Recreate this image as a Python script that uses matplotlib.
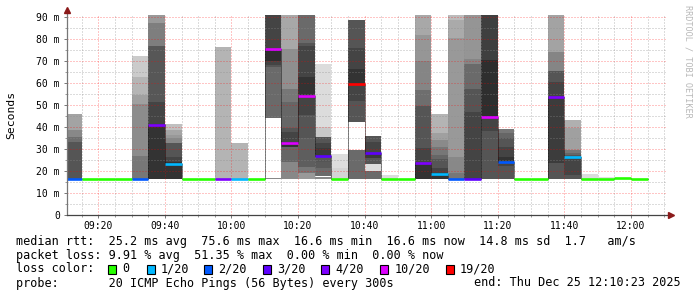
import matplotlib
matplotlib.use("Agg")
import matplotlib.pyplot as plt
from matplotlib.patches import Rectangle
from matplotlib.ticker import MultipleLocator, FixedLocator, FixedFormatter

# 5 minute steps from 09:10 to 12:05 (minutes after 09:00)
step_start = [10 + 5 * i for i in range(35)]

# median rtt per step (ms) and lost pings out of 20
median_ms = [16.6, 16.6, 16.6, 16.6, 16.6, 41.2, 23.2, 16.6, 16.6, 16.6,
             16.6, 16.6, 75.8, 32.7, 54.2, 26.8, 16.6, 59.7, 28.2, 16.6,
             16.6, 23.9, 18.6, 16.6, 16.6, 44.8, 24.3, 16.6, 16.6, 53.8,
             26.6, 16.6, 16.6, 16.9, 16.6]
loss = [2, 0, 0, 0, 2, 4, 1, 0, 0, 4,
        1, 0, 10, 10, 10, 3, 0, 19, 3, 0,
        0, 4, 1, 2, 3, 10, 2, 0, 0, 4,
        1, 0, 0, 0, 0]

smoke_base = 16.6
# smoke layers per step: (top in ms, grey), stacked from smoke_base; None = gap
smoke = [
    [(33.5, '#555555'), (35.7, '#6e6e6e'), (38.8, '#888888'), (46.0, '#a3a3a3')],
    [], [], [],
    [(27.1, '#777777'), (50.4, '#8c8c8c'), (54.7, '#a0a0a0'), (62.7, '#b5b5b5'), (72.4, '#cbcbcb')],
    [(41.5, '#333333'), (51.5, '#444444'), (77.0, '#575757'), (87.3, '#7e7e7e'), (95.0, '#999999')],
    [(24.4, '#333333'), (26.6, '#444444'), (32.7, '#555555'), (35.0, '#888888'), (36.5, '#999999'),
     (38.7, '#a5a5a5'), (41.5, '#c0c0c0')],
    [], [],
    [(76.3, '#b4b4b4')],
    [(32.7, '#b4b4b4')],
    [],
    [(17.1, '#888888'), (44.4, None), (67.6, '#6a6a6a'), (68.5, '#555555'), (70.3, '#444444'),
     (75.5, '#2e2e2e'), (95.0, '#444444')],
    [(24.4, '#888888'), (31.2, '#666666'), (33.5, '#333333'), (38.0, '#444444'), (39.5, '#555555'),
     (51.6, '#666666'), (57.3, '#777777'), (75.5, '#8f8f8f'), (95.0, '#a8a8a8')],
    [(19.1, '#999999'), (22.1, '#777777'), (35.0, '#5e5e5e'), (45.6, '#555555'), (54.2, '#444444'),
     (63.0, '#333333'), (77.0, '#444444'), (78.2, '#555555'), (95.0, '#6a6a6a')],
    [(17.5, '#888888'), (18.0, '#ffffff'), (21.4, '#6a6a6a'), (24.4, '#5a5a5a'), (26.8, '#555555'),
     (30.5, '#3a3a3a'), (32.7, '#444444'), (35.7, '#555555'), (40.3, '#c8c8c8'), (69.0, '#dcdcdc')],
    [(21.4, '#d4d4d4'), (27.9, '#dddddd')],
    [(29.7, '#6a6a6a'), (42.3, None), (52.1, '#555555'), (59.7, '#444444'), (66.5, '#333333'),
     (75.9, '#444444'), (88.8, '#555555')],
    [(20.1, '#6a6a6a'), (23.2, '#dddddd'), (25.9, '#555555'), (28.2, '#3a3a3a'), (33.5, '#444444'),
     (36.0, '#555555')],
    [(18.3, '#dcdcdc')],
    [],
    [(23.9, '#333333'), (30.4, '#444444'), (49.7, '#555555'), (57.0, '#6e6e6e'), (70.3, '#858585'),
     (81.9, '#969696'), (95.0, '#a8a8a8')],
    [(19.4, '#333333'), (21.4, '#444444'), (25.5, '#555555'), (27.4, '#666666'), (31.2, '#777777'),
     (34.2, '#8a8a8a'), (37.4, '#a0a0a0'), (46.0, '#b4b4b4')],
    [(19.4, '#777777'), (26.6, '#888888'), (80.4, '#999999'), (88.8, '#aaaaaa'), (95.0, '#bcbcbc')],
    [(47.0, '#444444'), (57.3, '#555555'), (68.8, '#6a6a6a'), (70.9, '#858585'), (95.0, '#959595')],
    [(38.4, '#555555'), (44.8, '#444444'), (70.6, '#2e2e2e'), (95.0, '#3f3f3f')],
    [(22.4, '#555555'), (24.3, '#444444'), (26.6, '#333333'), (31.2, '#444444'), (35.3, '#555555'),
     (37.5, '#666666'), (39.2, '#777777')],
    [], [],
    [(23.6, '#555555'), (53.8, '#3c3c3c'), (60.7, '#444444'), (65.5, '#555555'), (74.4, '#858585'),
     (95.0, '#a3a3a3')],
    [(18.3, '#555555'), (26.6, '#444444'), (27.4, '#555555'), (28.5, '#666666'), (29.7, '#777777'),
     (31.9, '#a0a0a0'), (39.5, '#a0a0a0'), (43.3, '#b0b0b0')],
    [(18.8, '#dcdcdc')],
    [(17.3, '#e0e0e0')],
    [], [],
]

loss_levels = [0, 1, 2, 3, 4, 10, 19]
loss_colors = ['#26ff00', '#00b8ff', '#0059ff', '#5e00ff', '#7e00ff', '#dd00ff', '#ff0000']
loss_labels = ['0', '1/20', '2/20', '3/20', '4/20', '10/20', '19/20']

x_ticks = [20, 40, 60, 80, 100, 120, 140, 160, 180]
x_labels = ['09:20', '09:40', '10:00', '10:20', '10:40', '11:00', '11:20', '11:40', '12:00']
y_ticks = [0, 10, 20, 30, 40, 50, 60, 70, 80, 90]
y_labels = ['0', '10 m', '20 m', '30 m', '40 m', '50 m', '60 m', '70 m', '80 m', '90 m']

legend_lines = [
    'median rtt:  25.2 ms avg  75.6 ms max  16.6 ms min  16.6 ms now  14.8 ms sd  1.7   am/s',
    'packet loss: 9.91 % avg  51.35 % max  0.00 % min  0.00 % now',
    'loss color:',
    'probe:       20 ICMP Echo Pings (56 Bytes) every 300s',
]
end_text = 'end: Thu Dec 25 12:10:23 2025'

MONO = 'DejaVu Sans Mono'
W, H = 697, 297
fig = plt.figure(figsize=(W / 100, H / 100), dpi=100)
ax_l, ax_r, ax_t, ax_b = 67, 665.5, 14.7, 215.3
ax = fig.add_axes([ax_l / W, 1 - ax_b / H, (ax_r - ax_l) / W, (ax_b - ax_t) / H])
ax.set_xlim(10.6, 190.4)
ax.set_ylim(0, 91.2)

# smoke
for x0, layers in zip(step_start, smoke):
    bottom = smoke_base
    for top, shade in layers:
        if shade is not None:
            ax.bar(x0, top - bottom, bottom=bottom, width=5, align='edge',
                   color=shade, linewidth=0, zorder=1)
        bottom = top

# median: dotted step line plus loss coloured segments
xs = step_start + [step_start[-1] + 5]
ys = median_ms + [median_ms[-1]]
ax.step(xs, ys, where='post', color='#111111', lw=0.72, ls=(0, (1, 1)), zorder=3)
cmap = dict(zip(loss_levels, loss_colors))
for x0, m, l in zip(step_start, median_ms, loss):
    ax.hlines(m, x0, x0 + 5, colors=cmap[l], lw=1.9, zorder=4)

# grid
ax.xaxis.set_major_locator(FixedLocator(x_ticks))
ax.xaxis.set_major_formatter(FixedFormatter(x_labels))
ax.xaxis.set_minor_locator(MultipleLocator(5))
ax.yaxis.set_major_locator(FixedLocator(y_ticks))
ax.yaxis.set_major_formatter(FixedFormatter(y_labels))
ax.yaxis.set_minor_locator(MultipleLocator(5))
ax.set_axisbelow(False)
ax.grid(which='major', color='#ff0000', alpha=0.45, lw=0.72, ls=(0, (1, 2)))
ax.grid(which='minor', color='#8c8c8c', alpha=0.6, lw=0.72, ls=(0, (1, 2)))

for s in ax.spines.values():
    s.set_visible(False)
ax.tick_params(which='major', length=2.2, width=0.7, color='#777777',
               labelsize=7, labelcolor='#000000')
ax.tick_params(which='minor', length=1.4, width=0.7, color='#999999')
ax.tick_params(axis='y', pad=3)
ax.tick_params(axis='x', pad=2)
for lab in ax.get_xticklabels() + ax.get_yticklabels():
    lab.set_family(MONO)

# axes with arrows
def fx(px):
    return (px - ax_l) / (ax_r - ax_l)

def fy(py):
    return (ax_b - py) / (ax_b - ax_t)

ax.plot([0, 0], [0, fy(11)], transform=ax.transAxes, color='#777777', lw=0.9,
        clip_on=False, zorder=5)
ax.plot([0, fx(669)], [0, 0], transform=ax.transAxes, color='#444444', lw=0.9,
        clip_on=False, zorder=5)
ax.plot([0], [fy(9.5)], marker='^', ms=4.5, color='#8b1a1a', mec='#8b1a1a',
        transform=ax.transAxes, clip_on=False, zorder=6)
ax.plot([fx(671)], [0], marker='>', ms=4.5, color='#8b1a1a', mec='#8b1a1a',
        transform=ax.transAxes, clip_on=False, zorder=6)

fig.text(11 / W, 1 - 115 / H, 'Seconds', rotation=90, ha='center', va='center',
         family=MONO, fontsize=8.2)
fig.text(688 / W, 1 - 5 / H, 'RRDTOOL / TOBI OETIKER', rotation=270, ha='center',
         va='top', family=MONO, fontsize=6.1, color='#b8b8b8')

# legend block
line_y = [241, 255, 269, 283]
for txt, py in zip(legend_lines, line_y):
    fig.text(16 / W, 1 - py / H, txt, ha='left', va='center', family=MONO, fontsize=8.5)
fig.text(681 / W, 1 - line_y[3] / H, end_text, ha='right', va='center', family=MONO,
         fontsize=8.5)

cw = 7.1
box_cols = [0, 5.4, 13.5, 21.8, 30.0, 38.3, 47.5]
for col, c, lab in zip(box_cols, loss_colors, loss_labels):
    bx = 16 + (13 + col) * cw
    fig.patches.append(Rectangle((bx / W, 1 - (line_y[2] + 4.5) / H), 8 / W, 9 / H,
                                 transform=fig.transFigure, facecolor=c,
                                 edgecolor='#000000', lw=0.8))
    fig.text((bx + 2 * cw) / W, 1 - line_y[2] / H, lab, ha='left', va='center',
             family=MONO, fontsize=8.5)

fig.savefig('out.png', dpi=100, facecolor='white')
